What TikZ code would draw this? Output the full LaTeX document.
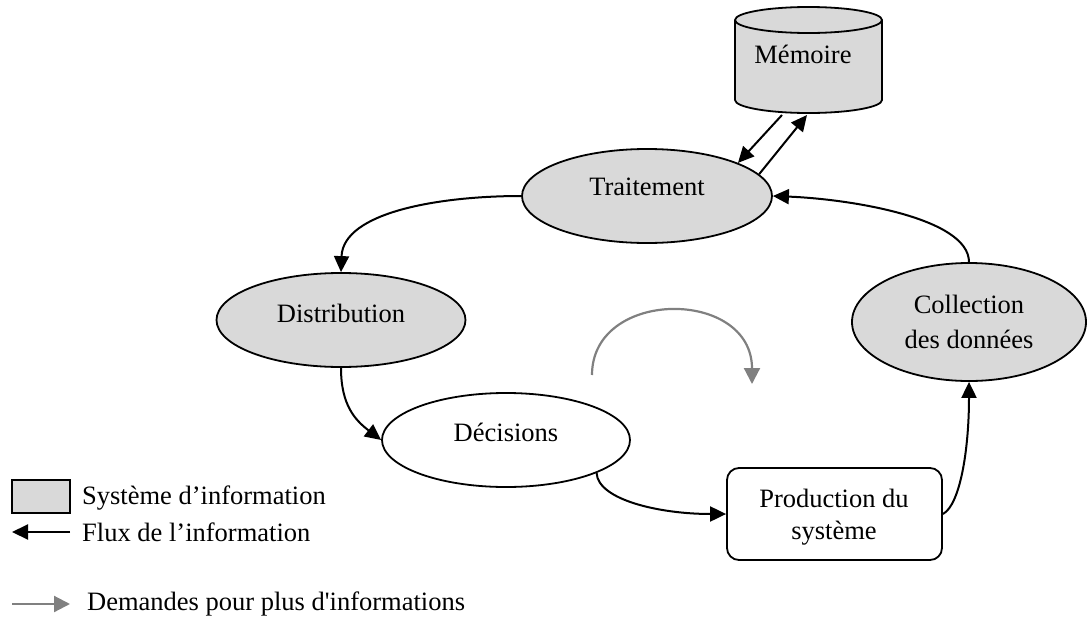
\documentclass[tikz,border=0pt]{standalone}
\usepackage{fontspec}
\setmainfont{Liberation Serif}
\newfontfamily\straightserif{Liberation Serif}[Ligatures=ResetAll]
\usetikzlibrary{arrows.meta,shapes.geometric}
\definecolor{sifill}{HTML}{D9D9D9}
\definecolor{reqgray}{HTML}{808080}
\tikzset{
  stage/.style={ellipse, draw, line width=1.8pt, fill=sifill},
  plainstage/.style={ellipse, draw, line width=1.8pt, fill=white},
  txt/.style={inner sep=0pt, font=\fontsize{26.5}{30}\selectfont, anchor=base},
  legtxt/.style={inner sep=0pt, font=\fontsize{26.5}{30}\selectfont, anchor=base west},
  flow/.style={line width=2pt, -{Triangle[length=16pt,width=15pt]}},
  req/.style={line width=2.2pt, draw=reqgray, -{Triangle[length=16pt,width=16pt]}, color=reqgray}
}
\begin{document}
\begin{tikzpicture}[x=1pt,y=-1pt]
\useasboundingbox (0,0) rectangle (1087,616);

% Memoire cylinder
\filldraw[fill=sifill, line width=1.8pt]
  (735,20) -- (735,100) arc (180:0:73.5 and 13) -- (882,20) arc (0:-180:73.5 and 13) -- cycle;
\draw[line width=1.8pt] (735,20) arc (180:0:73.5 and 13);
\node[txt] (mem) at (803,63) {Mémoire};
\coordinate (m1) at (782,115);
\coordinate (m2) at (807,115);

% stages
\node[stage, minimum width=250pt, minimum height=94pt] (trait) at (647,196) {};
\node[txt] (traitt) at (647,195) {Traitement};

\node[stage, minimum width=249pt, minimum height=94pt] (dist) at (341,320) {};
\node[txt] (distt) at (341,322) {Distribution};

\node[plainstage, minimum width=248pt, minimum height=94pt] (dec) at (506,440) {};
\node[txt] (dect) at (506,441) {Décisions};

\node[stage, minimum width=234pt, minimum height=118pt] (coll) at (969,322) {};
\node[txt] (collt1) at (969,313) {Collection};
\node[txt] (collt2) at (969,348) {des données};

\node[draw, line width=1.8pt, rounded corners=12pt, minimum width=215pt, minimum height=92pt, fill=white] (prod) at (834.5,514) {};
\node[txt] (prodt1) at (834,507) {Production du};
\node[txt] (prodt2) at (834,539) {système};

% flows
\draw[flow] (m1) -- (trait.20.6);
\draw[flow] (trait.11.5) -- (m2);
\draw[flow] (coll.north) .. controls (969,218) and (850,199) .. (trait.east);
\draw[flow] (trait.west) .. controls (440,196) and (343,212) .. (dist.north);
\draw[flow] (dist.south) .. controls (341,405) and (355,420) .. (dec.west);
\draw[flow] (dec.-20) .. controls (598,500) and (660,514) .. (prod.west);
\draw[flow] (prod.east) .. controls (960,505) and (969,450) .. (coll.south);

% request arc
\coordinate (g1) at (592,375);
\coordinate (g2) at (752,384);
\draw[req] (g1) .. controls (592,288) and (752,288) .. (g2);

% legend
\node[draw, line width=1.8pt, fill=sifill, minimum width=58pt, minimum height=33pt, inner sep=0pt] (legbox) at (41,496.5) {};
\node[legtxt] (legt1) at (82,504) {Système d’information};
\coordinate (l1a) at (70,532);
\coordinate (l1b) at (12,532);
\draw[flow] (l1a) -- (l1b);
\node[legtxt] (legt2) at (82,541) {Flux de l’information};
\coordinate (l2a) at (12,604);
\coordinate (l2b) at (70,604);
\draw[req] (l2a) -- (l2b);
\node[legtxt, font=\straightserif\fontsize{26.5}{30}\selectfont] (legt3) at (87,610) {Demandes pour plus d'informations};
\end{tikzpicture}
\end{document}
